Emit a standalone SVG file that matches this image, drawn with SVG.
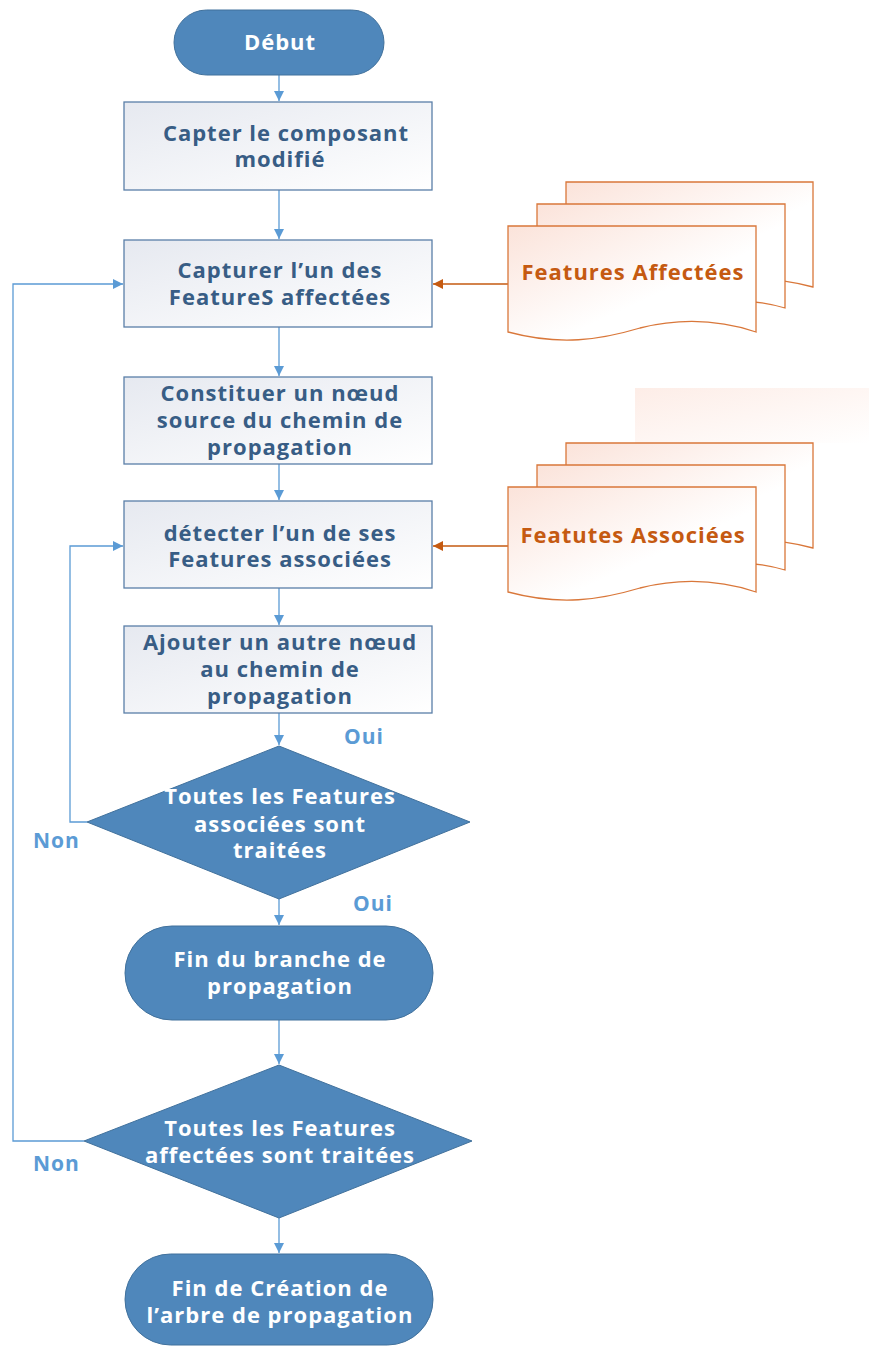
<svg xmlns="http://www.w3.org/2000/svg" width="869" height="1349" viewBox="0 0 869 1349">
<defs>
<linearGradient id="boxg" x1="0" y1="0" x2="1" y2="1">
<stop offset="0" stop-color="#E6E9F0"/>
<stop offset="1" stop-color="#FFFFFF"/>
</linearGradient>
<linearGradient id="docg" x1="0" y1="0" x2="1" y2="1">
<stop offset="0" stop-color="#FBE3DA"/>
<stop offset="0.6" stop-color="#FFFFFF"/>
</linearGradient>
<linearGradient id="fadeg" x1="0" y1="0" x2="1" y2="1">
<stop offset="0" stop-color="#FDEDE7"/>
<stop offset="1" stop-color="#FFFFFF"/>
</linearGradient>
<marker id="ab" viewBox="0 0 10 10" refX="10" refY="5" markerWidth="10" markerHeight="10" markerUnits="userSpaceOnUse" orient="auto">
<path d="M0,0 L10,5 L0,10 Z" fill="#5B9BD5"/>
</marker>
<marker id="ao" viewBox="0 0 10 10" refX="10" refY="5" markerWidth="10" markerHeight="10" markerUnits="userSpaceOnUse" orient="auto">
<path d="M0,0 L10,5 L0,10 Z" fill="#C55A11"/>
</marker>
</defs>
<style>
.term{fill:#4F87BB;stroke:#41719C;stroke-width:1}
.box{fill:url(#boxg);stroke:#5A7FA8;stroke-width:1.3}
.dia{fill:#4F87BB;stroke:#41719C;stroke-width:1}
.doc{fill:url(#docg);stroke:#D9773A;stroke-width:1.3}
.tw,.tb,.to{font-family:"Open Sans","Liberation Sans",sans-serif;font-weight:bold;font-size:22px;letter-spacing:1px;text-anchor:middle}
.tw{fill:#FFFFFF}
.tb{fill:#385D85}
.to{fill:#C55A11}
.lb{font-family:"Open Sans","Liberation Sans",sans-serif;font-weight:bold;font-size:21px;letter-spacing:1px;fill:#5B9BD5}
.cb{fill:none;stroke:#5B9BD5;stroke-width:1.3}
.co{fill:none;stroke:#C55A11;stroke-width:1.5}
</style>
<rect x="635" y="388" width="234" height="55" fill="url(#fadeg)"/>
<g id="connectors">
<path class="cb" d="M279,75 V101" marker-end="url(#ab)"/>
<path class="cb" d="M279,190 V239" marker-end="url(#ab)"/>
<path class="cb" d="M279,327 V376" marker-end="url(#ab)"/>
<path class="cb" d="M279,464 V500" marker-end="url(#ab)"/>
<path class="cb" d="M279,588 V625" marker-end="url(#ab)"/>
<path class="cb" d="M279,713 V745" marker-end="url(#ab)"/>
<path class="cb" d="M279,899 V925" marker-end="url(#ab)"/>
<path class="cb" d="M279,1020 V1064" marker-end="url(#ab)"/>
<path class="cb" d="M279,1218 V1253" marker-end="url(#ab)"/>
<path class="cb" d="M87,822 H70 V546 H123" marker-end="url(#ab)"/>
<path class="cb" d="M84,1141 H13 V284 H123" marker-end="url(#ab)"/>
<path class="co" d="M509,284 H433" marker-end="url(#ao)"/>
<path class="co" d="M509,546 H433" marker-end="url(#ao)"/>
<text class="lb" x="344" y="744">Oui</text>
<text class="lb" x="353" y="911">Oui</text>
<text class="lb" x="33" y="848">Non</text>
<text class="lb" x="33" y="1171">Non</text>
</g>
<g id="n-debut">
<rect class="term" x="174" y="10" width="210" height="65" rx="32.5"/>
<text class="tw" x="280" y="50">Début</text>
</g>
<g id="n-capter">
<rect class="box" x="124" y="102" width="308" height="88"/>
<text class="tb" x="286" y="141">Capter le composant</text>
<text class="tb" x="280" y="167">modifié</text>
</g>
<g id="n-capturer">
<rect class="box" x="124" y="240" width="308" height="87"/>
<text class="tb" x="280" y="278">Capturer l’un des</text>
<text class="tb" x="280" y="305">FeatureS affectées</text>
</g>
<g id="n-constituer">
<rect class="box" x="124" y="377" width="308" height="87"/>
<text class="tb" x="280" y="401">Constituer un nœud</text>
<text class="tb" x="280" y="428">source du chemin de</text>
<text class="tb" x="280" y="455">propagation</text>
</g>
<g id="n-detecter">
<rect class="box" x="124" y="501" width="308" height="87"/>
<text class="tb" x="280" y="541">détecter l’un de ses</text>
<text class="tb" x="280" y="567">Features associées</text>
</g>
<g id="n-ajouter">
<rect class="box" x="124" y="626" width="308" height="87"/>
<text class="tb" x="280" y="650">Ajouter un autre nœud</text>
<text class="tb" x="280" y="677">au chemin de</text>
<text class="tb" x="280" y="704">propagation</text>
</g>
<g id="n-dec1">
<path class="dia" d="M279,746 L470,822 L279,899 L87,822 Z"/>
<text class="tw" x="280" y="804">Toutes les Features</text>
<text class="tw" x="280" y="832">associées sont</text>
<text class="tw" x="280" y="858">traitées</text>
</g>
<g id="n-finbranche">
<rect class="term" x="125" y="926" width="308" height="94" rx="47"/>
<text class="tw" x="280" y="967">Fin du branche de</text>
<text class="tw" x="280" y="994">propagation</text>
</g>
<g id="n-dec2">
<path class="dia" d="M279,1065 L472,1141 L279,1218 L84,1141 Z"/>
<text class="tw" x="280" y="1136">Toutes les Features</text>
<text class="tw" x="280" y="1163">affectées sont traitées</text>
</g>
<g id="n-fin">
<rect class="term" x="125" y="1254" width="308" height="91" rx="45.5"/>
<text class="tw" x="280" y="1296">Fin de Création de</text>
<text class="tw" x="280" y="1323">l’arbre de propagation</text>
</g>
<g id="n-doc1">
<path class="doc" d="M566,182 H813 V287 C790,281 770,278 750,280 L566,280 Z"/>
<path class="doc" d="M537,204 H785 V308 C765,302 745,300 725,302 L537,302 Z"/>
<path class="doc" d="M508,226 H756 V332 C720,320 680,318 640,328 C600,340 560,346 508,332 Z"/>
<text class="to" x="633" y="280">Features Affectées</text>
</g>
<g id="n-doc2">
<path class="doc" d="M566,443 H813 V548 C790,542 770,539 750,541 L566,541 Z"/>
<path class="doc" d="M537,465 H785 V570 C765,564 745,562 725,564 L537,564 Z"/>
<path class="doc" d="M508,487 H756 V592 C720,580 680,578 640,588 C600,600 560,606 508,592 Z"/>
<text class="to" x="633" y="543">Featutes Associées</text>
</g>
</svg>
